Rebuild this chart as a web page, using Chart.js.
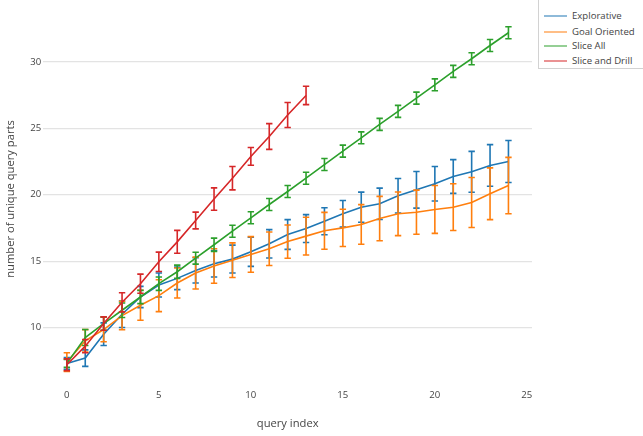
<!DOCTYPE html>
<html>
<head>
<meta charset="utf-8">
<script src="https://cdn.jsdelivr.net/npm/chart.js@4.4.1/dist/chart.umd.min.js"></script>
<style>
html,body{margin:0;padding:0;background:#fff;}
#wrap{position:relative;width:643px;height:436px;overflow:hidden;}
#c{position:absolute;left:0;top:0;}
#legend{position:absolute;left:538px;top:-1px;width:120px;height:70px;border-left:1px solid #d2d2d2;border-bottom:1px solid #d2d2d2;background:#fff;font-family:'Open Sans';font-size:9.6px;color:#444;box-sizing:border-box;}
.sw{position:absolute;left:5px;width:23px;height:0;border-top:1.6px solid;transform:translateY(-50%);}
.lab{position:absolute;left:33px;white-space:nowrap;line-height:12px;transform:translateY(-50%);}
</style>
</head>
<body>
<div id="wrap">
<canvas id="c" width="643" height="436"></canvas>
<div id="legend"></div>
</div>
<script>
const queryIndex = [0,1,2,3,4,5,6,7,8,9,10,11,12,13,14,15,16,17,18,19,20,21,22,23,24];

const seriesNames = ['Explorative','Goal Oriented','Slice All','Slice and Drill'];
const seriesColors = ['#1f77b4','#ff7f0e','#2ca02c','#d62728'];

const explorative    = [7.3,7.7,9.5,11.0,12.3,13.2,13.7,14.3,14.8,15.15,15.7,16.3,17.0,17.45,18.0,18.56,19.06,19.31,19.92,20.37,20.82,21.37,21.72,22.2,22.5];
const explorativeErr = [0.45,0.62,0.85,1.0,0.8,0.9,0.85,0.95,1.0,1.05,1.1,1.07,1.12,1.05,1.02,1.0,1.13,1.18,1.3,1.38,1.3,1.27,1.54,1.57,1.58];

const goalOriented    = [7.4,9.0,9.85,10.9,11.68,12.4,13.35,14.1,14.63,15.07,15.5,15.93,16.47,16.88,17.28,17.5,17.76,18.2,18.56,18.68,18.89,19.06,19.41,20.07,20.69];
const goalOrientedErr = [0.7,0.84,0.92,1.07,1.13,1.2,1.13,1.2,1.3,1.3,1.34,1.26,1.25,1.42,1.39,1.4,1.49,1.67,1.64,1.66,1.8,1.76,1.88,1.95,2.12];

const sliceAll    = [7.3,9.25,10.3,11.3,12.3,13.3,14.2,15.22,16.23,17.25,18.26,19.26,20.24,21.24,22.27,23.28,24.28,25.29,26.27,27.27,28.27,29.28,30.23,31.23,32.19];
const sliceAllErr = [0.3,0.6,0.5,0.55,0.5,0.5,0.5,0.45,0.5,0.45,0.45,0.45,0.45,0.45,0.45,0.45,0.45,0.45,0.45,0.45,0.45,0.45,0.45,0.45,0.45];

const sliceDrill    = [7.2,8.6,10.3,11.9,13.3,14.95,16.45,18.06,19.67,21.24,22.88,24.38,26.0,27.47];
const sliceDrillErr = [0.44,0.5,0.5,0.72,0.72,0.73,0.86,0.63,0.84,0.88,0.67,0.97,0.94,0.69];

const xTicks = [0,5,10,15,20,25];
const yTicks = [10,15,20,25,30];

const allValues = [explorative, goalOriented, sliceAll, sliceDrill];
const allErrors = [explorativeErr, goalOrientedErr, sliceAllErr, sliceDrillErr];

const datasets = allValues.map((vals, k) => ({
  label: seriesNames[k],
  data: vals.map((v, i) => ({x: queryIndex[i], y: v})),
  errors: allErrors[k],
  borderColor: seriesColors[k],
  backgroundColor: seriesColors[k],
  borderWidth: 1.6,
  pointRadius: 0,
  tension: 0,
  fill: false,
  order: 3 - k
}));

const errorBarPlugin = {
  id: 'errorBars',
  afterDatasetDraw(chart, args) {
    const ds = chart.data.datasets[args.index];
    const xs = chart.scales.x, ys = chart.scales.y;
    const ctx = chart.ctx;
    ctx.save();
    ctx.strokeStyle = ds.borderColor;
    ctx.lineWidth = 1.6;
    ds.data.forEach((p, i) => {
      const e = ds.errors[i];
      const px = xs.getPixelForValue(p.x);
      const t = ys.getPixelForValue(p.y + e);
      const b = ys.getPixelForValue(p.y - e);
      ctx.beginPath();
      ctx.moveTo(px, t); ctx.lineTo(px, b);
      ctx.moveTo(px - 3.2, t); ctx.lineTo(px + 3.2, t);
      ctx.moveTo(px - 3.2, b); ctx.lineTo(px + 3.2, b);
      ctx.stroke();
    });
    ctx.restore();
  }
};

const font = 'Open Sans';
new Chart(document.getElementById('c'), {
  type: 'line',
  data: { datasets },
  options: {
    responsive: false,
    animation: false,
    devicePixelRatio: 1,
    layout: { padding: { top: 14, right: 111, bottom: 0, left: 0 } },
    plugins: { legend: { display: false }, tooltip: { enabled: false } },
    scales: {
      x: {
        type: 'linear', min: -1.28, max: 25.28,
        afterBuildTicks: s => { s.ticks = xTicks.map(v => ({value: v})); },
        afterFit: s => { s.height = 52; },
        grid: { display: false, drawTicks: false },
        border: { display: false },
        ticks: { padding: 6, color: '#444', font: { family: font, size: 9.6 } },
        title: { display: true, text: 'query index', color: '#444', font: { family: font, size: 11.2 }, padding: { top: 0, bottom: 5 } }
      },
      y: {
        type: 'linear', min: 5.75, max: 33.6,
        afterBuildTicks: s => { s.ticks = yTicks.map(v => ({value: v})); },
        afterFit: s => { s.width = 43.3; },
        grid: { color: '#e3e3e3', lineWidth: 1.2, drawTicks: false },
        border: { display: false },
        ticks: { padding: 2, color: '#444', font: { family: font, size: 9.6 } },
        title: { display: true, text: 'number of unique query parts', color: '#444', font: { family: font, size: 11.2 }, padding: { top: 4.4, bottom: 0 } }
      }
    }
  },
  plugins: [errorBarPlugin]
});

const legend = document.getElementById('legend');
const rowY = [17, 32.5, 47, 61.5];
seriesNames.forEach((name, k) => {
  const sw = document.createElement('div');
  sw.className = 'sw';
  sw.style.top = rowY[k] + 'px';
  sw.style.borderTopColor = seriesColors[k];
  legend.appendChild(sw);
  const lab = document.createElement('div');
  lab.className = 'lab';
  lab.style.top = rowY[k] + 'px';
  lab.textContent = name;
  legend.appendChild(lab);
});
</script>
</body>
</html>
